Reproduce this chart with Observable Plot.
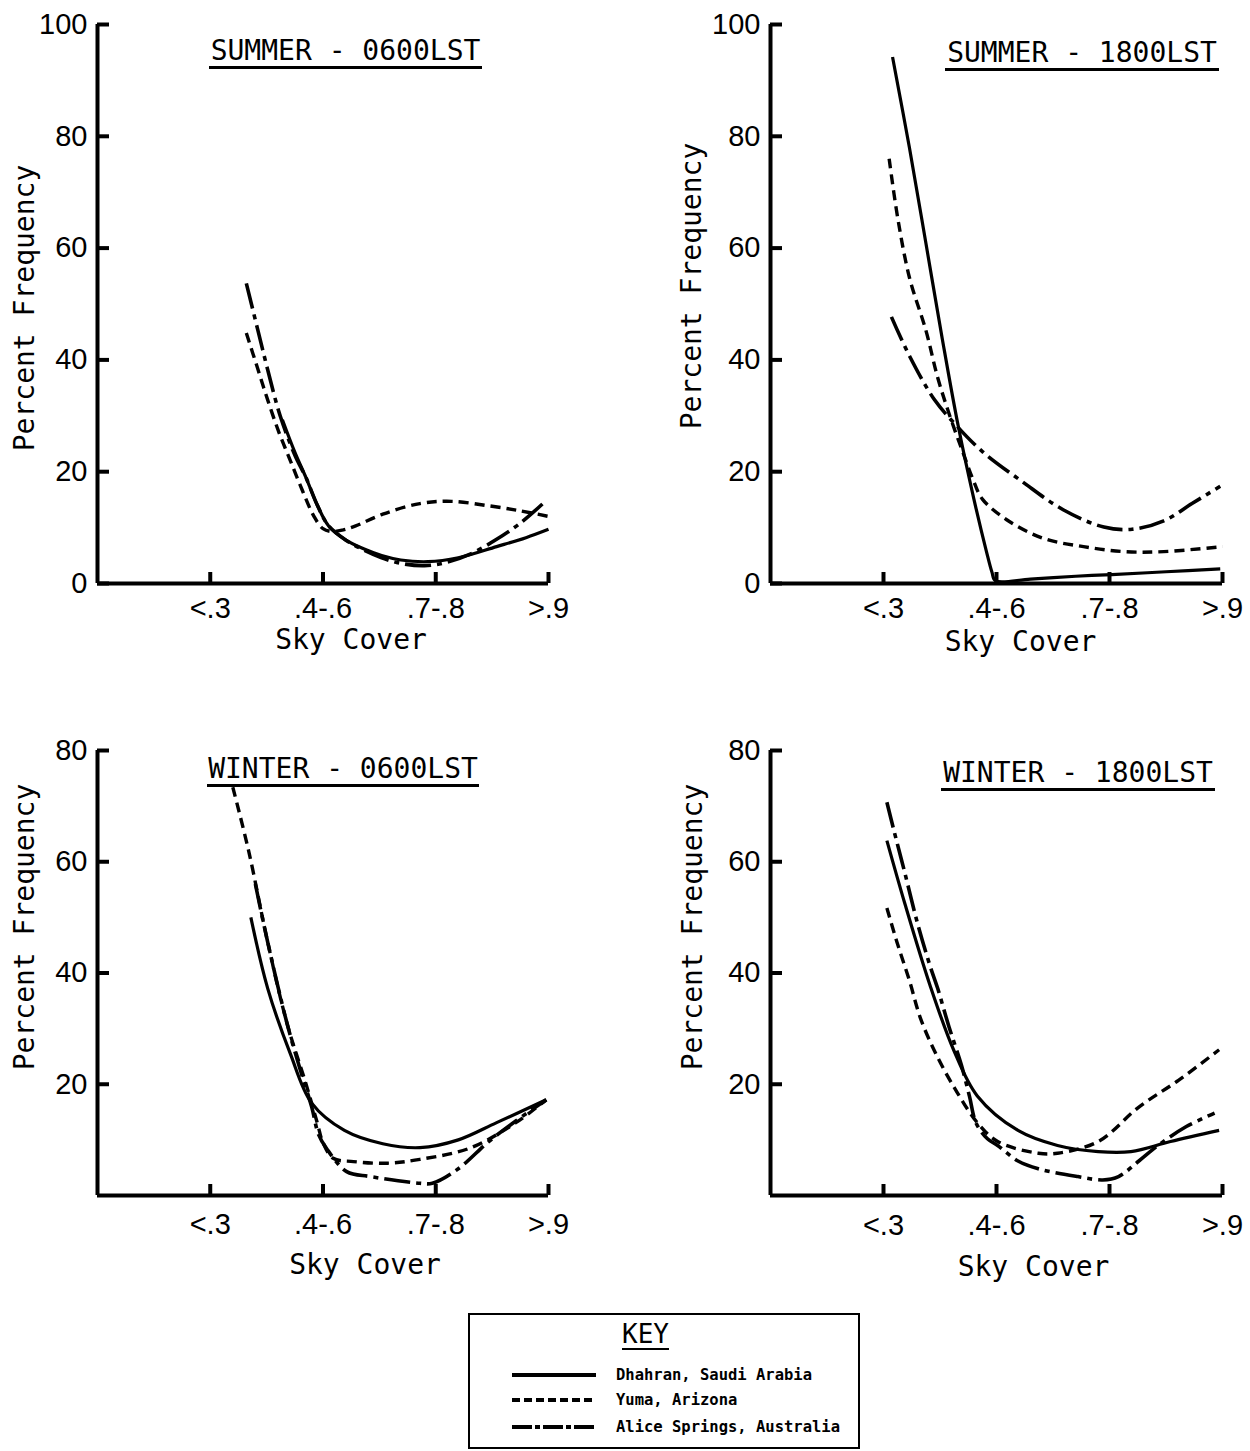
<!DOCTYPE html>
<html>
<head>
<meta charset="utf-8">
<script src="https://cdn.jsdelivr.net/npm/d3@7"></script>
<script src="https://cdn.jsdelivr.net/npm/@observablehq/plot@0.6"></script>
<style>
  body { margin: 0; background: #fff; }
  #fig { position: relative; width: 1250px; height: 1451px; background: #fff; color: #000;
         font-family: "DejaVu Sans Mono", monospace; overflow: hidden; }
  .panel { position: absolute; }
  .title { position: absolute; font-size: 28px; line-height: 28px; text-align: center;
           border-bottom: 3px solid #000; white-space: pre; padding-bottom: 1px; }
  #key { position: absolute; left: 468px; top: 1313px; width: 388px; height: 132px; border: 2px solid #000; background: #fff; }
  #key .keytitle { position: absolute; left: 152px; top: 6px; font-size: 26px; line-height: 26px;
                   border-bottom: 2px solid #000; padding-bottom: 1px; }
  #key .row { position: absolute; left: 42px; height: 16px; display: flex; align-items: center; }
  #key .row span { margin-left: 20px; font-size: 15.5px; font-weight: bold; line-height: 16px; white-space: pre; }
</style>
</head>
<body>
<div id="fig"></div>
<script>
// ---------- data ----------
const skyCover = ["<.3", ".4-.6", ".7-.8", ">.9"];          // x tick labels (positions 1..4)
const skyTicks = [1, 2, 3, 4];
const stations = ["Dhahran, Saudi Arabia", "Yuma, Arizona", "Alice Springs, Australia"];
const panelTitles = ["SUMMER - 0600LST", "SUMMER - 1800LST", "WINTER - 0600LST", "WINTER - 1800LST"];
const yTicksSummer = [0, 20, 40, 60, 80, 100];
const yTicksWinter = [20, 40, 60, 80];

// [sky-cover position, percent frequency]
const summer0600Dhahran = [[1.64,29.3],[1.75,23.5],[1.85,18.9],[1.95,14],[2.05,10.3],[2.2,7.8],[2.36,6.2],[2.52,5],[2.69,4.2],[2.93,3.9],[3.2,4.6],[3.54,6.6],[3.8,8.2],[4.0,9.7]];
const summer0600Yuma = [[1.32,44.8],[1.42,38.5],[1.51,32.8],[1.61,27],[1.71,22],[1.82,16.5],[1.92,12],[2.0,9.8],[2.08,9.3],[2.18,9.6],[2.29,10.3],[2.53,12.4],[2.86,14.3],[3.14,14.7],[3.47,13.9],[3.75,13],[4.0,12]];
const summer0600Alice = [[1.32,53.7],[1.42,45.5],[1.51,38.2],[1.62,30],[1.75,23],[1.85,18.9],[1.95,14],[2.05,10.3],[2.2,7.8],[2.36,6],[2.52,4.6],[2.69,3.6],[2.9,3.2],[3.1,3.8],[3.3,5.2],[3.54,7.9],[3.75,10.8],[3.95,14.3]];

const summer1800Dhahran = [[1.08,94.2],[1.23,77.9],[1.375,60.9],[1.52,43.8],[1.66,28.3],[1.8,15.1],[1.91,5.8],[1.96,2],[1.99,0.5],[2.3,0.8],[2.7,1.3],[3.02,1.6],[3.5,2.1],[3.98,2.6]];
const summer1800Yuma = [[1.05,76],[1.125,65.5],[1.23,54.7],[1.375,45.3],[1.48,36.8],[1.59,29.8],[1.7,23.6],[1.8,18.2],[1.875,15.1],[2.09,11.4],[2.41,8.1],[2.77,6.6],[3.125,5.7],[3.48,5.7],[4.0,6.6]];
const summer1800Alice = [[1.07,47.7],[1.23,40.7],[1.45,32.9],[1.625,28.7],[1.875,23.6],[2.23,18.2],[2.59,13.2],[2.95,10.1],[3.2,9.7],[3.48,11.2],[3.73,14.3],[3.98,17.4]];

const winter0600Dhahran = [[1.36,50],[1.51,37.2],[1.71,25.5],[1.9,16.6],[2.19,11.7],[2.53,9.3],[2.86,8.6],[3.2,10],[3.54,13.1],[3.98,17.2]];
const winter0600Yuma = [[1.2,73.4],[1.34,62],[1.51,45.5],[1.68,31],[1.85,20],[1.95,13],[2.0,9.5],[2.09,6.7],[2.27,6.1],[2.57,5.8],[2.86,6.5],[3.3,8.5],[3.71,13.1],[3.98,17.2]];
const winter0600Alice = [[1.40,56],[1.51,45.5],[1.68,31],[1.8,22.5],[1.9,15.9],[1.96,11],[2.03,8.5],[2.21,4.3],[2.42,3.4],[2.86,2.2],[2.97,2.2],[3.2,4.8],[3.47,9.7],[3.71,13.4],[3.98,17.2]];

const winter1800Dhahran = [[1.03,63.8],[1.19,52.4],[1.41,37.9],[1.62,26.2],[1.83,17.9],[2.19,11.7],[2.54,9],[2.9,7.9],[3.19,7.9],[3.54,9.7],[3.97,11.7]];
const winter1800Yuma = [[1.03,51.7],[1.12,45.5],[1.23,38.6],[1.33,31.7],[1.48,24.8],[1.65,18.6],[1.83,13.1],[2.01,9.7],[2.37,7.6],[2.54,7.6],[2.9,9.7],[3.26,15.9],[3.61,20.7],[3.97,26.2]];
const winter1800Alice = [[1.03,70.7],[1.085,66.2],[1.19,57.9],[1.3,49],[1.41,41.4],[1.48,37.2],[1.58,30.3],[1.69,23.4],[1.76,17.9],[1.82,13],[1.92,10.2],[2.01,9],[2.19,6.2],[2.37,4.8],[2.72,3.4],[2.94,2.8],[3.08,3.4],[3.26,6.2],[3.43,9],[3.68,12.4],[3.93,14.8]];

// ---------- styles ----------
const lineStyles = [
  {strokeWidth: 3.2, strokeDasharray: null},
  {strokeWidth: 3.4, strokeDasharray: "10,6"},
  {strokeWidth: 3.6, strokeDasharray: "26,6,5,6"}
];
const tickFont = "'Liberation Sans', Arial, sans-serif";

const panels = [
  {left: 0, top: 0, width: 625, height: 700, mL: 97, mR: 77, mT: 24, mB: 117, yDomain: [0,100], yTicks: yTicksSummer,
   xPad: 14, yLab: [-72, 4], xLab: [28, 65], series: [summer0600Dhahran, summer0600Yuma, summer0600Alice],
   title: {left: 209, top: 37, width: 273}},
  {left: 625, top: 0, width: 625, height: 700, mL: 145, mR: 28, mT: 24, mB: 117, yDomain: [0,100], yTicks: yTicksSummer,
   xPad: 14, yLab: [-78, -18], xLab: [24, 67], series: [summer1800Dhahran, summer1800Yuma, summer1800Alice],
   title: {left: 945, top: 39, width: 274}},
  {left: 0, top: 700, width: 625, height: 610, mL: 97, mR: 77, mT: 50, mB: 115, yDomain: [0,80], yTicks: yTicksWinter,
   xPad: 18, yLab: [-72, -46], xLab: [42, 78], series: [winter0600Dhahran, winter0600Yuma, winter0600Alice],
   title: {left: 207, top: 755, width: 272}},
  {left: 625, top: 700, width: 625, height: 610, mL: 145, mR: 28, mT: 50, mB: 115, yDomain: [0,80], yTicks: yTicksWinter,
   xPad: 19, yLab: [-77, -46], xLab: [37, 80], series: [winter1800Dhahran, winter1800Yuma, winter1800Alice],
   title: {left: 941, top: 759, width: 274}}
];

const fig = document.getElementById("fig");

panels.forEach((p, pi) => {
  const marks = [
    Plot.ruleX([0], {strokeWidth: 4}),
    Plot.ruleY([0], {strokeWidth: 4}),
    Plot.axisY({ticks: p.yTicks, tickSize: 12, dx: 12, tickFormat: () => "", strokeWidth: 4, label: null}),
    Plot.axisY({ticks: p.yTicks, tickSize: 0, tickPadding: 10, label: null, fontSize: 29, fontFamily: tickFont}),
    Plot.axisX({ticks: skyTicks, tickSize: 11, dy: -11, tickFormat: () => "", strokeWidth: 4, label: null}),
    Plot.axisX({ticks: skyTicks, tickSize: 0, tickPadding: p.xPad, tickFormat: d => skyCover[d - 1], label: null, fontSize: 29, fontFamily: tickFont})
  ];
  p.series.forEach((pts, i) => {
    marks.push(Plot.line(pts, {
      x: d => d[0], y: d => d[1], curve: "catmull-rom",
      stroke: "black", strokeWidth: lineStyles[i].strokeWidth,
      strokeDasharray: lineStyles[i].strokeDasharray, strokeLinecap: "butt"
    }));
  });
  marks.push(Plot.text(["Percent Frequency"], {text: d => d, frameAnchor: "left", textAnchor: "middle", rotate: -90,
    dx: p.yLab[0], dy: p.yLab[1], fontSize: 28}));
  marks.push(Plot.text(["Sky Cover"], {text: d => d, frameAnchor: "bottom", textAnchor: "middle",
    dx: p.xLab[0], dy: p.xLab[1], fontSize: 28}));

  const chart = Plot.plot({
    width: p.width, height: p.height,
    marginLeft: p.mL, marginRight: p.mR, marginTop: p.mT, marginBottom: p.mB,
    x: {domain: [0, 4]},
    y: {domain: p.yDomain},
    style: {fontFamily: "'DejaVu Sans Mono', monospace", fontSize: "27px", color: "black", background: "transparent", overflow: "visible"},
    marks
  });
  const holder = document.createElement("div");
  holder.className = "panel";
  holder.style.left = p.left + "px";
  holder.style.top = p.top + "px";
  holder.appendChild(chart);
  fig.appendChild(holder);

  const t = document.createElement("div");
  t.className = "title";
  t.style.left = p.title.left + "px";
  t.style.top = p.title.top + "px";
  t.style.width = p.title.width + "px";
  t.textContent = panelTitles[pi];
  fig.appendChild(t);
});

// ---------- key ----------
const key = document.createElement("div");
key.id = "key";
const kt = document.createElement("div");
kt.className = "keytitle";
kt.textContent = "KEY";
key.appendChild(kt);
const rowTops = [52, 77, 104];
const keyDash = [null, "8,4", "20,3,5,3"];
stations.forEach((s, i) => {
  const row = document.createElement("div");
  row.className = "row";
  row.style.top = rowTops[i] + "px";
  const svg = d3.create("svg").attr("width", 84).attr("height", 10);
  svg.append("line").attr("x1", 0).attr("x2", 84).attr("y1", 5).attr("y2", 5)
    .attr("stroke", "black").attr("stroke-width", 4)
    .attr("stroke-dasharray", keyDash[i]);
  row.appendChild(svg.node());
  const sp = document.createElement("span");
  sp.textContent = s;
  row.appendChild(sp);
  key.appendChild(row);
});
fig.appendChild(key);
</script>
</body>
</html>
